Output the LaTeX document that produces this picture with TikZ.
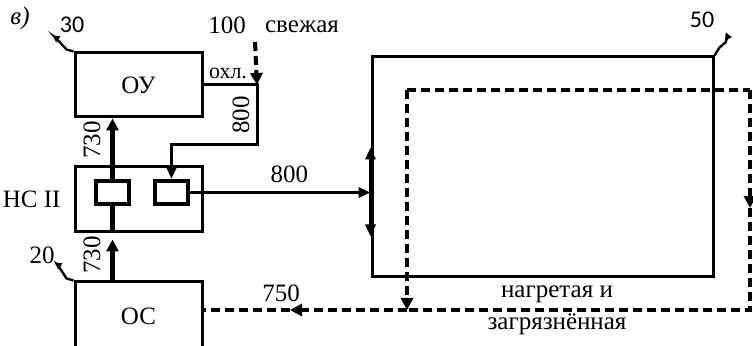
\documentclass[tikz,border=0pt]{standalone}
\usepackage{fontspec}
\setmainfont{Liberation Serif}
\newfontfamily\numfont{Carlito}
\usepackage{tikz}
\usetikzlibrary{arrows.meta, positioning, calc}

\begin{document}
\begin{tikzpicture}[
      x=0.5pt, y=-0.5pt,
      font=\fontsize{12.5}{13}\selectfont,
      blk/.style={rectangle, draw, line width=1.5pt, minimum width=63.5pt, inner sep=0pt},
      cell/.style={rectangle, draw, line width=2pt, minimum width=16.5pt,
        minimum height=11.5pt, inner sep=0pt},
      main/.style={-{Triangle[length=6pt, width=6pt]}, line width=2.5pt},
      flow/.style={-{Triangle[length=6pt, width=5pt]}, line width=1.5pt},
      ret/.style={line width=2pt, dash pattern=on 4.5pt off 2.5pt},
      rettip/.style={ret, -{Triangle[length=6pt, width=6pt]}},
      lead/.style={line width=1.2pt, -{Triangle[length=3.5pt, width=3.5pt]}},
      num/.style={font=\numfont\fontsize{12}{13}\selectfont}
    ]
      \useasboundingbox (0,0) rectangle (753,346);
      % blocks
      \node[blk, minimum height=32pt] (ou) at (138.5,85) {ОУ};
      \node[blk, minimum height=32.5pt] (ns) at (138.5,199.5) {};
      \node[blk, minimum height=34pt] (os) at (138.5,316) {ОС};
      \node[cell] (ca) at (112.5,192.5) {};
      \node[cell] (cb) at (171.5,192.5) {};
      \node[rectangle, draw, line width=1.5pt, minimum width=170.5pt,
        minimum height=110pt, inner sep=0pt] (bas) at (542.5,167) {};
      \node[left=3pt of ns.west] (nsl) {НС II};
      \node (tag) at (20,18) {\textit{в)}};
      % points
      \coordinate (fr) at (255,42);
      \coordinate (mix) at (257,85);
      \coordinate (turn) at (257,145);
      \coordinate (in) at (bas.west |- cb.east);
      \coordinate (up) at ($(in)+(0,-45)$);
      \coordinate (dn) at ($(in)+(0,44)$);
      \coordinate (d1) at (407,90);
      \coordinate (d2) at (750,90);
      \coordinate (d3) at (750,208);
      \coordinate (d4) at (750,310);
      \coordinate (d5) at (407,310);
      \coordinate (d6) at (290,310);
      % feed lines
      \draw[main] (ca.north) -- (ca.north |- ou.south);
      \draw[main] (ca.south |- os.north) -- ([yshift=-3pt]ca.south |- ns.south);
      \draw[line width=2.5pt] (ca.south |- ns.south) -- (ca.south);
      \node[rotate=90] (q1) at (92,140) {730};
      \node[rotate=90] (q2) at (92,255) {730};
      \draw[flow] (ou.east) -- (mix) -- (turn) -| (cb.north);
      \draw[rettip] (fr) -- (mix);
      \node (ohl) at (228,73) {\fontsize{11}{12}\selectfont охл.};
      \node (q3) at (227,25) {100};
      \node (fresh) at (302,27) {свежая};
      \node[rotate=90] (q4) at (241,115) {800};
      \draw[flow] (cb.east) -- (in) node[pos=0.55, above=1pt] (q5) {800};
      \draw[flow] (in) -- (up);
      \draw[flow] (in) -- (dn);
      % return water
      \draw[rettip] (d1) -- (d5);
      \draw[ret] (d1) -- (d2);
      \draw[rettip] (d2) -- (d3);
      \draw[ret] (d3) -- (d4) -- (d5);
      \draw[rettip] (d5) -- (d6);
      \draw[ret] (d6) -- (os.east |- d6);
      \node (q6) at (281,293) {750};
      \node (hot1) at (557,294) {нагретая и};
      \node (hot2) at (557,324) {загрязнённая};
      % position marks
      \draw[lead] (ou.north west) -- ++(-7,-2) -- ++(-11,-12) -- ++(-3,-2);
      \node[num] (n30) at (72,25) {30};
      \draw[lead] (os.north west) -- ++(-7,-2) -- ++(-9,-14) -- ++(-3,-2);
      \node (n20) at (42,255) {20};
      \draw[lead] (bas.north east) -- ++(5,-8) -- ++(6,-5) -- ++(2,-6) -- ++(-2,-4);
      \node[num] (n50) at (702,20) {50};
    \end{tikzpicture}
\end{document}
